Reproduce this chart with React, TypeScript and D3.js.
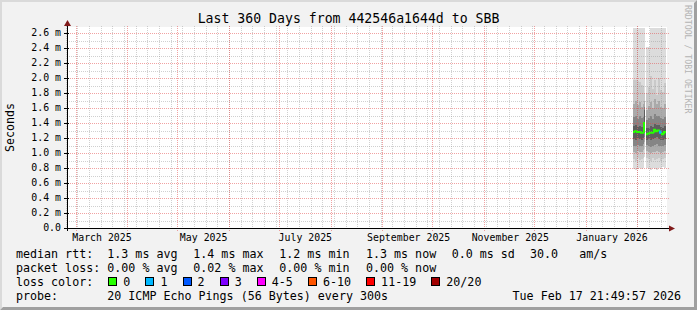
import React from 'react';
import * as d3 from 'd3';

// ---------- data ----------
const titleText = 'Last 360 Days from 442546a1644d to SBB';
const endTime = '2026-02-17T21:49:57';
const spanDays = 360;
const yMaxMs = 2.6667;

const yMajorTicks = [0, 0.2, 0.4, 0.6, 0.8, 1.0, 1.2, 1.4, 1.6, 1.8, 2.0, 2.2, 2.4, 2.6];
const yTickLabels = ['0.0', '0.2 m', '0.4 m', '0.6 m', '0.8 m', '1.0 m', '1.2 m', '1.4 m', '1.6 m', '1.8 m', '2.0 m', '2.2 m', '2.4 m', '2.6 m'];
const yMinorTicks = [0.1, 0.3, 0.5, 0.7, 0.9, 1.1, 1.3, 1.5, 1.7, 1.9, 2.1, 2.3, 2.5];

const monthLabelTexts = ['March 2025', 'May 2025', 'July 2025', 'September 2025', 'November 2025', 'January 2026'];
const monthLabelDates = ['2025-03-16T12:00', '2025-05-16T12:00', '2025-07-16T12:00', '2025-09-16T12:00', '2025-11-16T12:00', '2026-01-16T12:00'];

// smoke steps (values in ms); NaN = no data
const smokeDates = [
  '2026-01-29T02:40', '2026-01-30T07:26', '2026-01-31T12:14', '2026-02-01T17:02', '2026-02-02T21:50',
  '2026-02-04T02:38', '2026-02-04T17:02', '2026-02-05T07:26', '2026-02-05T21:50', '2026-02-07T02:38',
  '2026-02-08T07:26', '2026-02-09T12:14', '2026-02-10T17:02', '2026-02-11T21:50', '2026-02-13T02:38',
  '2026-02-14T07:26', '2026-02-15T12:14', '2026-02-16T17:02',
];
const smokeEnd = '2026-02-17T21:49';
const p00 = [0.79, 0.78, 0.79, 0.80, 0.79, 0.80, 0.95, NaN, 0.80, 0.79, 0.78, 0.80, 0.79, 0.78, 0.80, 0.79, 0.81, 0.80];
const p10 = [0.92, 0.90, 0.93, 0.91, 0.92, 0.94, 1.05, NaN, 0.93, 0.92, 0.90, 0.93, 0.91, 0.92, 0.94, 0.90, 0.92, 0.93];
const p20 = [1.02, 1.00, 1.03, 1.01, 1.02, 1.04, 1.15, NaN, 1.03, 1.01, 1.00, 1.02, 1.01, 1.03, 1.02, 1.00, 1.01, 1.03];
const p30 = [1.10, 1.09, 1.11, 1.10, 1.09, 1.12, 1.22, NaN, 1.11, 1.10, 1.08, 1.10, 1.11, 1.12, 1.10, 1.09, 1.10, 1.11];
const p40 = [1.19, 1.18, 1.20, 1.19, 1.18, 1.20, 1.27, NaN, 1.18, 1.19, 1.17, 1.19, 1.20, 1.21, 1.19, 1.18, 1.17, 1.19];
const medianRtt = [1.28, 1.29, 1.28, 1.28, 1.27, 1.27, 1.40, NaN, 1.25, 1.26, 1.27, 1.27, 1.31, 1.29, 1.30, 1.27, 1.25, 1.28];
const p60 = [1.36, 1.37, 1.35, 1.36, 1.35, 1.36, 1.58, NaN, 1.33, 1.34, 1.36, 1.35, 1.39, 1.37, 1.38, 1.35, 1.34, 1.36];
const p70 = [1.48, 1.50, 1.46, 1.49, 1.47, 1.48, 1.62, NaN, 1.44, 1.47, 1.49, 1.46, 1.52, 1.50, 1.49, 1.47, 1.45, 1.48];
const p80 = [1.66, 1.70, 1.64, 1.68, 1.62, 1.65, 1.70, NaN, 1.58, 1.63, 1.68, 1.60, 1.72, 1.66, 1.70, 1.62, 1.60, 1.65];
const p90 = [1.97, 1.98, 1.96, 1.95, 1.91, 1.90, 1.80, NaN, 1.80, 1.88, 2.03, 1.85, 1.97, 1.78, 2.00, 1.84, 1.82, 1.93];
const p100 = [2.9, 2.9, 2.9, 2.9, 2.9, 2.9, 2.9, NaN, 2.41, 2.41, 2.9, 2.9, 2.9, 2.9, 2.9, 2.9, 2.9, 2.9];
const lossCounts = [0, 0, 0, 0, 0, 0, 0, NaN, 0, 0, 0, 0, 0, 0, 0, 1, 0, 0];

const smokeShades = ['#dcdcdc', '#c9c9c9', '#aaaaaa', '#858585', '#5e5e5e'];

const lossLegendLabels = ['0', '1', '2', '3', '4-5', '6-10', '11-19', '20/20'];
const lossLegendColors = ['#26ff00', '#00b8ff', '#0059ff', '#7e00ff', '#ff00ff', '#ff5500', '#ff0000', '#a10000'];
const lossLegendUpper = [0, 1, 2, 3, 5, 10, 19, 20];

const rttLabel = 'median rtt:';
const rttItems = ['1.3 ms avg', '1.4 ms max', '1.2 ms min', '1.3 ms now', '0.0 ms sd', '30.0', 'am/s'];
const lossLabel = 'packet loss:';
const lossItems = ['0.00 % avg', '0.02 % max', '0.00 % min', '0.00 % now'];
const lossColorLabel = 'loss color:';
const probeLabel = 'probe:';
const probeText = '20 ICMP Echo Pings (56 Bytes) every 300s';
const stampText = 'Tue Feb 17 21:49:57 2026';
const watermark = 'RRDTOOL / TOBI OETIKER';
const yAxisTitle = 'Seconds';

// ---------- layout ----------
const W = 697, H = 310;
const X0 = 67, X1 = 667, Y0 = 228, Y1 = 28;
const MONO = '"DejaVu Sans Mono", monospace';
const itemCols = [107.3, 193.3, 279.3, 366, 451.7, 530, 579.3];
const CH = 7.02;

export default function App() {
  const end = new Date(endTime);
  const start = new Date(end.getTime() - spanDays * 864e5);
  const x = d3.scaleTime().domain([start, end]).range([66, 666]);
  const y = d3.scaleLinear().domain([0, yMaxMs]).range([Y0, Y1]);

  const months = d3.timeMonth.range(start, end);
  const weeks = d3.timeSunday.range(start, end);

  const dates = smokeDates.map((s) => new Date(s));
  const bounds = [...dates, new Date(smokeEnd)];
  const lows = [p00, p10, p20, p30, p40];
  const highs = [p100, p90, p80, p70, p60];

  const clampY = (v: number) => Math.max(Y1, Math.min(Y0, y(v)));

  const smokeRects: JSX.Element[] = [];
  lows.forEach((lo, k) => {
    dates.forEach((d, i) => {
      if (isNaN(lo[i])) return;
      const xa = Math.round(x(d));
      const xb = Math.round(x(bounds[i + 1]));
      const ya = clampY(highs[k][i]);
      const yb = clampY(lo[i]);
      smokeRects.push(
        <rect key={`s${k}-${i}`} x={xa} y={ya} width={xb - xa} height={yb - ya} fill={smokeShades[k]} shapeRendering="crispEdges" />
      );
    });
  });

  const lossColor = (n: number) => {
    const idx = lossLegendUpper.findIndex((u) => n <= u);
    return lossLegendColors[idx < 0 ? lossLegendColors.length - 1 : idx];
  };

  const medSegs: JSX.Element[] = [];
  dates.forEach((d, i) => {
    const v = medianRtt[i];
    if (isNaN(v)) return;
    const xa = Math.round(x(d));
    const xb = Math.round(x(bounds[i + 1]));
    const yv = y(v);
    let path = `M${xa},${yv}H${xb}`;
    if (i > 0 && !isNaN(medianRtt[i - 1])) {
      path = `M${xa},${y(medianRtt[i - 1])}V${yv}H${xb}`;
    }
    medSegs.push(<path key={`m${i}`} d={path} fill="none" stroke={lossColor(lossCounts[i])} strokeWidth={2} />);
  });

  // legend boxes layout
  const boxes: { bx: number; lx: number; label: string; color: string }[] = [];
  let bx = 108.3;
  lossLegendLabels.forEach((lab, i) => {
    const lx = bx + 15;
    boxes.push({ bx, lx, label: lab, color: lossLegendColors[i] });
    bx = lx + lab.length * CH + 15.1;
  });

  const majorGrid = 'rgba(228,70,70,0.5)';
  const minorGrid = 'rgba(150,150,150,0.45)';

  return (
    <svg width={W} height={H} style={{ position: 'absolute', left: 0, top: 0 }} fontFamily={MONO}>
      <rect x={0} y={0} width={W} height={H} fill="#f2f2f2" />
      {/* frame */}
      <path d={`M0,0H${W}L${W - 2},2H2V${H - 2}L0,${H}Z`} fill="#dadada" />
      <path d={`M0,${H}H${W}V0L${W - 3},3V${H - 3}H3Z`} fill="#a0a0a0" />
      <rect x={X0} y={Y1 - 1} width={X1 - X0} height={Y0 - Y1 + 1} fill="#ffffff" />

      {smokeRects}

      {/* minor grid */}
      {yMinorTicks.map((v) => (
        <line key={`hm${v}`} x1={X0} x2={X1} y1={Math.round(y(v)) + 0.5} y2={Math.round(y(v)) + 0.5} stroke={minorGrid} strokeDasharray="1,1" />
      ))}
      {weeks.map((d) => (
        <line key={`vw${+d}`} x1={Math.floor(x(d)) + 0.5} x2={Math.floor(x(d)) + 0.5} y1={Y1 - 2} y2={Y0 + 2} stroke={minorGrid} strokeDasharray="1,1" />
      ))}
      {/* major grid */}
      {yMajorTicks.slice(1).map((v) => (
        <line key={`hM${v}`} x1={X0 - 3} x2={X1 + 2} y1={Math.round(y(v)) + 0.5} y2={Math.round(y(v)) + 0.5} stroke={majorGrid} strokeDasharray="1,1" />
      ))}
      {months.map((d) => (
        <line key={`vM${+d}`} x1={Math.floor(x(d)) + 0.5} x2={Math.floor(x(d)) + 0.5} y1={Y1 - 2} y2={Y0 + 3} stroke={majorGrid} strokeDasharray="1,1" />
      ))}
      {yMajorTicks.map((v) => (
        <line key={`tk${v}`} x1={X0 - 3} x2={X0 + 2} y1={Math.round(y(v)) + 0.5} y2={Math.round(y(v)) + 0.5} stroke="#000" />
      ))}

      {medSegs}

      {/* axes */}
      <line x1={X0 + 0.5} x2={X0 + 0.5} y1={Y0 + 3} y2={Y1 - 3} stroke="#000" />
      <line x1={X0 - 3} x2={X1 + 2} y1={Y0 + 0.5} y2={Y0 + 0.5} stroke="#000" />
      <path d={`M${X0 - 3},${Y1 - 2}L${X0 + 0.5},${Y1 - 8}L${X0 + 4},${Y1 - 2}Z`} fill="#801a1a" />
      <path d={`M${X1 + 2},${Y0 - 2.5}L${X1 + 8},${Y0 + 0.5}L${X1 + 2},${Y0 + 3.5}Z`} fill="#801a1a" />

      {/* y labels */}
      {yMajorTicks.map((v, i) => (
        <text key={`yl${v}`} x={61} y={y(v) + 3.4} fontSize={9.9} textAnchor="end" fill="#000">{yTickLabels[i]}</text>
      ))}
      {/* x labels */}
      {monthLabelDates.map((s, i) => (
        <text key={`xl${s}`} x={x(new Date(s))} y={241.3} fontSize={9.9} textAnchor="middle" fill="#000">{monthLabelTexts[i]}</text>
      ))}

      <text x={348.5} y={23.4} fontSize={13.2} textAnchor="middle" fill="#000">{titleText}</text>
      <text transform="translate(14,127.5) rotate(-90)" fontSize={11.6} textAnchor="middle" fill="#000">{yAxisTitle}</text>
      <text transform="translate(685,5) rotate(90)" fontSize={8.2} fill="#b4b4b4">{watermark}</text>

      {/* legend */}
      <g fontSize={11.66} fill="#000">
        <text x={16} y={258.3}>{rttLabel}</text>
        {rttItems.map((t, i) => (
          <text key={`r${i}`} x={itemCols[i]} y={258.3} style={{ whiteSpace: 'pre' }}>{t}</text>
        ))}
        <text x={16} y={272.2}>{lossLabel}</text>
        {lossItems.map((t, i) => (
          <text key={`l${i}`} x={itemCols[i]} y={272.2}>{t}</text>
        ))}
        <text x={16} y={285.8}>{lossColorLabel}</text>
        {boxes.map((b) => (
          <g key={`b${b.label}`}>
            <rect x={Math.round(b.bx) + 0.5} y={277.5} width={8} height={8} fill={b.color} stroke="#000" strokeWidth={1} />
            <text x={b.lx} y={285.8}>{b.label}</text>
          </g>
        ))}
        <text x={16} y={300}>{probeLabel}</text>
        <text x={itemCols[0]} y={300}>{probeText}</text>
        <text x={681} y={300} textAnchor="end">{stampText}</text>
      </g>
    </svg>
  );
}
